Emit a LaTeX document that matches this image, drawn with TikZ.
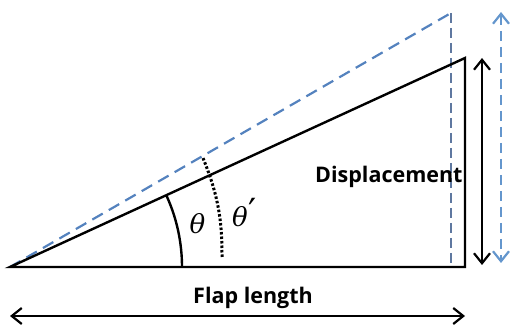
\documentclass[tikz,border=0pt]{standalone}
\usepackage{fontspec}
\newfontfamily\labfont{Open Sans}
\newfontfamily\gfont{DejaVu Serif}
\usetikzlibrary{arrows.meta}
\definecolor{dashblue}{RGB}{84,130,190}
\definecolor{vblue}{RGB}{95,120,160}
\definecolor{arrblue}{RGB}{100,150,205}
\tikzset{
  solidline/.style={line width=2.4pt, black},
  bluedash/.style={line width=2.2pt, dashblue, dash pattern=on 12pt off 7pt},
  vdash/.style={line width=2.2pt, vblue, dash pattern=on 10pt off 5pt},
  lab/.style={font=\labfont\bfseries\fontsize{21.5}{24}\selectfont, inner sep=0pt},
  greek/.style={font=\gfont\itshape\fontsize{26}{28}\selectfont, inner sep=0pt},
  barbtips/.style={{Straight Barb[length=10pt,width=16pt,line width=2.2pt]}-{Straight Barb[length=10pt,width=16pt,line width=2.2pt]}},
}
\begin{document}
\begin{tikzpicture}[x=1pt,y=1pt]
\useasboundingbox (0,0) rectangle (510,326);
% points
\coordinate (O) at (10,59);
\coordinate (B) at (465,59);
\coordinate (T) at (465,268);
\coordinate (D) at (451,313);
\coordinate (Df) at (451,59);
\coordinate (A1) at (482,268);
\coordinate (A2) at (482,61);
\coordinate (C1) at (501,314);
\coordinate (C2) at (501,63);
\coordinate (F1) at (10,10);
\coordinate (F2) at (465,10);
\coordinate (S0) at (182,59);
\coordinate (P1) at (222,69);
\coordinate (P2) at (203,168);
% dashed rotated flap
\draw[bluedash] (O) -- (D);
\draw[vdash] (D) -- (Df);
% solid triangle
\draw[solidline, line join=miter] (O) -- (B) -- (T) -- cycle;
% angle arcs
\draw[solidline] (S0) arc[start angle=0, end angle=24.67, radius=172];
\draw[line width=3pt, black, dash pattern=on 2.5pt off 2pt] (P1) to[bend right=11] (P2);
% dimension arrows
\draw[solidline, barbtips] (A1) -- (A2);
\draw[line width=2.2pt, arrblue, dash pattern=on 10pt off 6pt, barbtips] (C1) -- (C2);
\draw[solidline, barbtips] (F1) -- (F2);
% labels
\node[lab, anchor=base west] (disp) at (315,143) {Displacement};
\node[lab, anchor=base] (flap) at (253,23) {Flap length};
\node[greek, anchor=base] (th) at (197.5,92) {θ};
\node[greek, anchor=base west] (thp) at (232,99) {θ\kern1pt\raisebox{2pt}{\upshape\fontsize{36}{36}\selectfont ′}};
\end{tikzpicture}
\end{document}
